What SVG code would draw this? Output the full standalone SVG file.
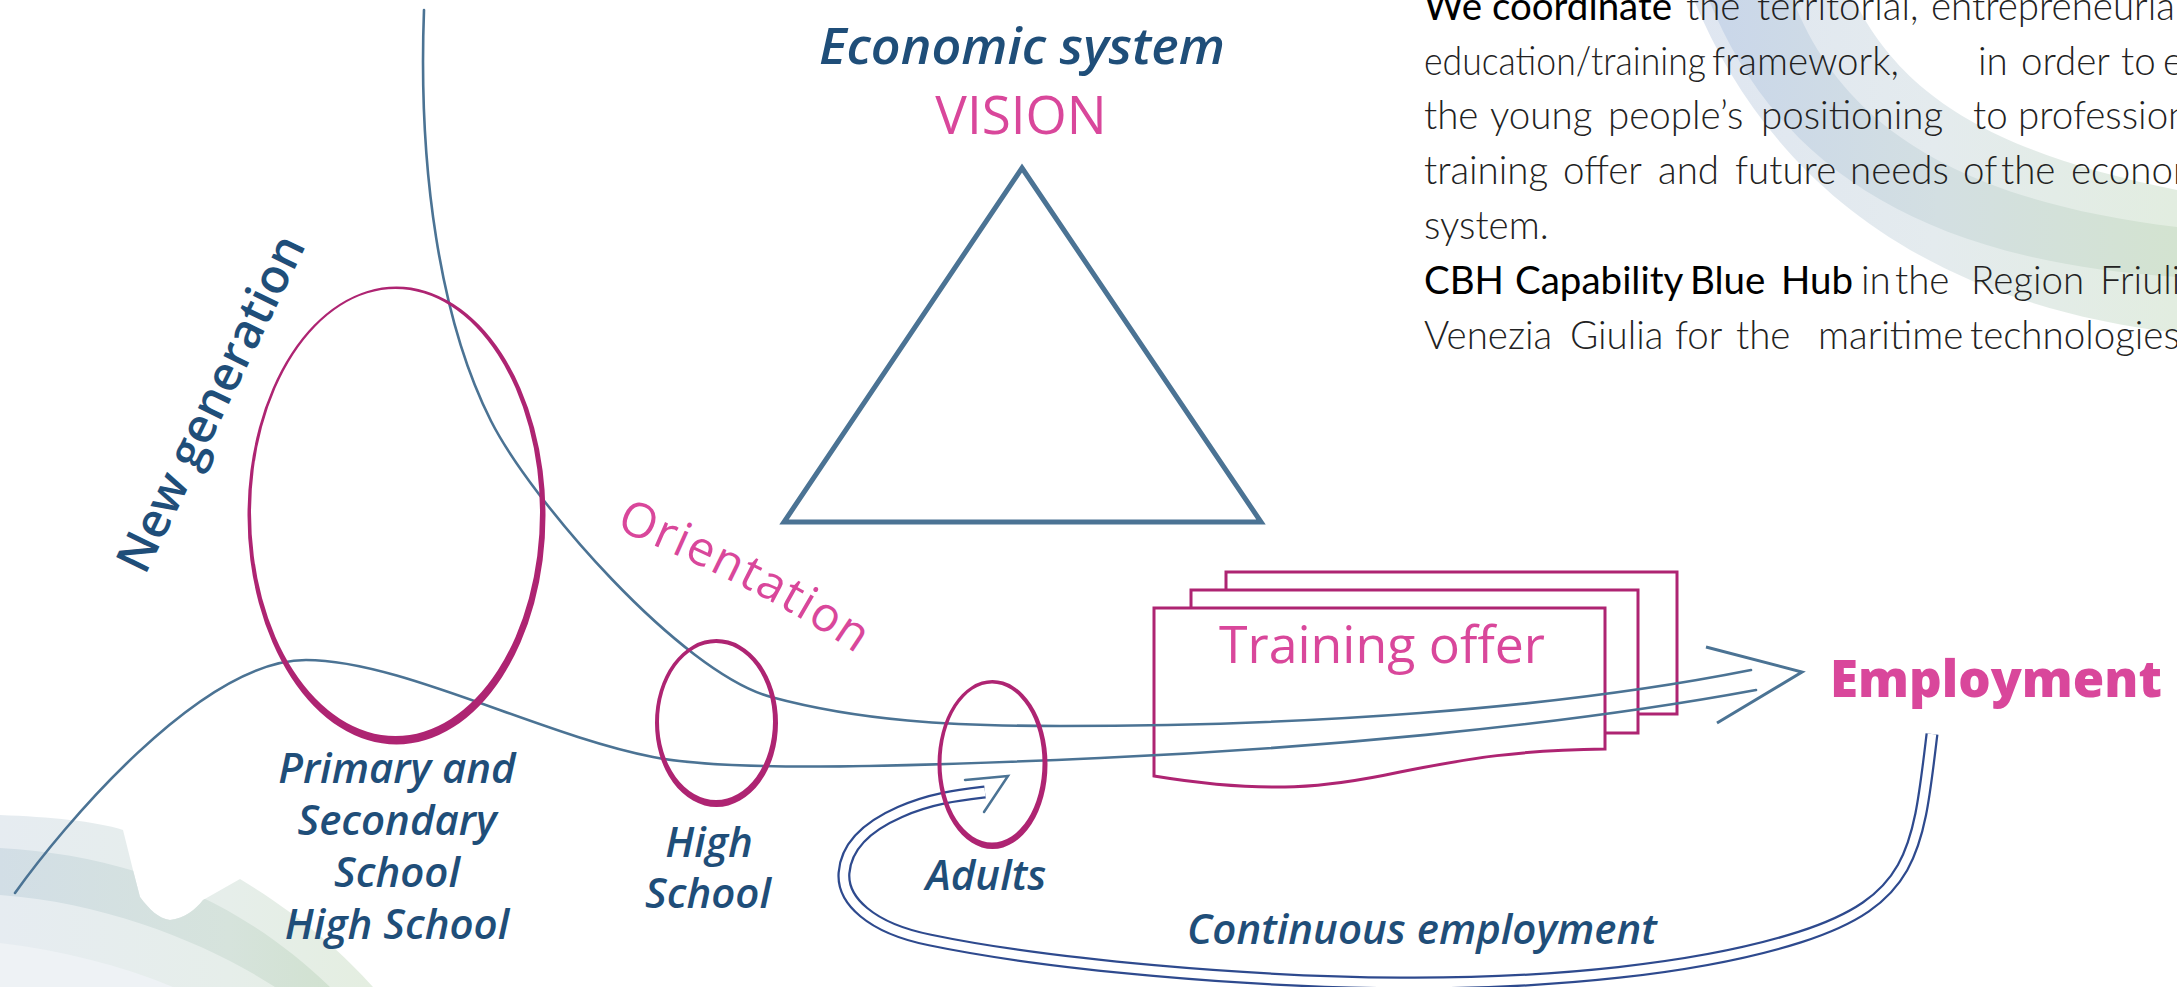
<svg xmlns="http://www.w3.org/2000/svg" width="2177" height="987" viewBox="0 0 2177 987">
<style>
.body{font-family:Lato,"Liberation Sans",sans-serif;font-size:38.5px;fill:#222;font-weight:300}
.em{font-weight:400;fill:#000}
.lbl{font-family:"Open Sans","Noto Sans",sans-serif;font-style:italic;font-weight:600;fill:#1f4e79;text-anchor:middle;font-size:42px}
.pink{font-family:"Open Sans","Noto Sans",sans-serif;fill:#d9479b;font-weight:500}
.line{fill:none;stroke:#4b7394;stroke-width:2.6;stroke-linecap:round}
.mag{fill:#ae2472;fill-rule:evenodd}
.box{fill:#fff;stroke:#ae2472;stroke-width:3}
</style>
<defs>
<linearGradient id="gTR" x1="1690" y1="0" x2="2177" y2="0" gradientUnits="userSpaceOnUse">
<stop offset="0" stop-color="#dfe6f1"/><stop offset="0.5" stop-color="#e4ebee"/><stop offset="1" stop-color="#e2ede0"/>
</linearGradient>
<linearGradient id="gTRc" x1="1700" y1="0" x2="2177" y2="0" gradientUnits="userSpaceOnUse">
<stop offset="0" stop-color="#c9d6ea"/><stop offset="0.5" stop-color="#d3dfe2"/><stop offset="1" stop-color="#d3e3d0"/>
</linearGradient>
<linearGradient id="gBL" x1="0" y1="0" x2="380" y2="0" gradientUnits="userSpaceOnUse">
<stop offset="0" stop-color="#e6ecf1"/><stop offset="0.6" stop-color="#e6eeea"/><stop offset="1" stop-color="#e4eee0"/>
</linearGradient>
<linearGradient id="gBLc" x1="0" y1="0" x2="380" y2="0" gradientUnits="userSpaceOnUse">
<stop offset="0" stop-color="#d2dee6"/><stop offset="0.6" stop-color="#d6e3dc"/><stop offset="1" stop-color="#cfe1cb"/>
</linearGradient>
<clipPath id="clipBL">
<path d="M0,815 C50,817 95,821 123,830 L133,870 L140,897 C150,910 158,918 170,920 C185,918 195,910 203,900 L240,879 C300,915 345,955 373,987 L0,987 Z"/>
</clipPath>
</defs>
<rect width="2177" height="987" fill="#fff"/>

<g id="background">
<path d="M1694,0 C1760,160 1900,300 2177,333 L2177,190 C1980,150 1900,90 1854,0 Z" fill="url(#gTR)"/>
<path d="M1709,0 C1770,150 1900,260 2177,277 L2177,227 C1950,200 1840,120 1793,0 Z" fill="url(#gTRc)"/>
<g clip-path="url(#clipBL)">
<rect x="0" y="800" width="400" height="187" fill="url(#gBL)"/>
<path d="M0,848 C130,855 240,900 330,987 L275,987 C210,945 110,903 0,895 Z" fill="url(#gBLc)"/>
<path d="M0,943 C60,950 120,965 173,987 L0,987 Z" fill="#eef2f5"/>
</g>
</g>

<g id="text-block">
<text class="body" y="20"><tspan class="em" x="1424">We coordinate</tspan> <tspan x="1686">the</tspan> <tspan x="1757">territorial,</tspan> <tspan x="1931">entrepreneurial</tspan></text>
<text class="body" y="75"><tspan x="1424" textLength="282" lengthAdjust="spacingAndGlyphs">education/training</tspan> <tspan x="1712">framework,</tspan> <tspan x="1978">in</tspan> <tspan x="2021">order</tspan> <tspan x="2121">to</tspan> <tspan x="2163">e</tspan></text>
<text class="body" y="129"><tspan x="1424">the</tspan> <tspan x="1490">young</tspan> <tspan x="1608">people’s</tspan> <tspan x="1761">positioning</tspan> <tspan x="1973">to</tspan> <tspan x="2018">professional</tspan></text>
<text class="body" y="184"><tspan x="1424">training</tspan> <tspan x="1563">offer</tspan> <tspan x="1658">and</tspan> <tspan x="1735">future</tspan> <tspan x="1850">needs</tspan> <tspan x="1963">of</tspan> <tspan x="2001">the</tspan> <tspan x="2071">economic</tspan></text>
<text class="body" x="1424" y="239">system.</text>
<text class="body" y="294"><tspan class="em" x="1424">CBH</tspan> <tspan class="em" x="1515">Capability</tspan> <tspan class="em" x="1690">Blue</tspan> <tspan class="em" x="1781">Hub</tspan> <tspan x="1861">in</tspan> <tspan x="1895">the</tspan> <tspan x="1971">Region</tspan> <tspan x="2100">Friuli</tspan></text>
<text class="body" y="349"><tspan x="1424">Venezia</tspan> <tspan x="1570">Giulia</tspan> <tspan x="1675">for</tspan> <tspan x="1736">the</tspan> <tspan x="1818">maritime</tspan> <tspan x="1970">technologies</tspan></text>
</g>

<g id="vision">
<text class="lbl" x="1022" y="64" textLength="406" lengthAdjust="spacingAndGlyphs" style="font-size:50px">Economic system</text>
<text class="pink" x="1021" y="134" text-anchor="middle" style="font-size:53px">VISION</text>
<path d="M1022,168 L1261,522 L784,522 Z" fill="none" stroke="#4b7394" stroke-width="5"/>
</g>

<g id="new-generation">
<text transform="translate(145,576) rotate(-64)" style="font-family:'Open Sans','Noto Sans',sans-serif;font-weight:600;font-size:48px;fill:#1f4e79" textLength="368" lengthAdjust="spacingAndGlyphs">New generation</text>
</g>

<g id="orientation">
<path id="orPath" d="M615,529 Q765,590 858,655" fill="none"/>
<text class="pink" style="font-size:48px"><textPath href="#orPath" textLength="272" lengthAdjust="spacing">Orientation</textPath></text>
</g>

<g id="training-offer">
<rect class="box" x="1226" y="572" width="451" height="142"/>
<rect class="box" x="1191" y="590" width="447" height="143"/>
<path class="box" d="M1154,608 L1605,608 L1605,749 C1520,750 1470,758 1400,772 C1330,787 1270,795 1154,776 Z"/>
<text class="pink" x="1382" y="663" text-anchor="middle" textLength="326" lengthAdjust="spacingAndGlyphs" style="font-size:52px">Training offer</text>
</g>

<g id="employment">
<text class="pink" x="1996" y="697" text-anchor="middle" textLength="332" lengthAdjust="spacingAndGlyphs" style="font-size:52px;font-weight:800">Employment</text>
</g>

<g id="connectors">
<path class="line" d="M424,10 C418,170 440,320 491,421 C531,500 680,672 771,697 C860,721 950,726 1060,726 C1300,726 1550,710 1751,670"/>
<path class="line" d="M15,893 C60,830 200,660 306,660 C400,660 540,735 653,757 C723,771 880,768 1100,758 C1300,749 1550,728 1756,690"/>
<path class="line" style="stroke-width:3;stroke-linecap:butt;stroke-linejoin:miter" d="M1706,647 L1802,672 L1717,723"/>
<path d="M1932,734 C1918,850 1915,900 1800,937 C1700,969 1550,984 1400,983 C1250,982 1050,965 930,940 C870,928 842,900 844,873 C846,846 868,826 900,812 C932,798 960,795 985,792" fill="none" stroke="#2e4a8e" stroke-width="13"/>
<path d="M1932,734 C1918,850 1915,900 1800,937 C1700,969 1550,984 1400,983 C1250,982 1050,965 930,940 C870,928 842,900 844,873 C846,846 868,826 900,812 C932,798 960,795 985,792" fill="none" stroke="#fff" stroke-width="8.5"/>
<path class="line" style="stroke-width:2.5" d="M965,780 L1008,776 L984,812"/>
</g>

<g id="ellipse-primary">
<path class="mag" d="M247.5,515.5 a149,229 0 1,0 298,0 a149,229 0 1,0 -298,0 Z M251,512.5 a144.5,223.5 0 1,0 289,0 a144.5,223.5 0 1,0 -289,0 Z"/>
<text class="lbl" x="397" y="783">Primary and</text>
<text class="lbl" x="397" y="835">Secondary</text>
<text class="lbl" x="397" y="887">School</text>
<text class="lbl" x="397" y="939">High School</text>
</g>

<g id="ellipse-highschool">
<path class="mag" d="M655,723 a61.5,84 0 1,0 123,0 a61.5,84 0 1,0 -123,0 Z M659,721.5 a57,78.5 0 1,0 114,0 a57,78.5 0 1,0 -114,0 Z"/>
<text class="lbl" x="709" y="857">High</text>
<text class="lbl" x="708" y="908">School</text>
</g>

<g id="ellipse-adults">
<path class="mag" d="M937.5,764.5 a55,84.5 0 1,0 110,0 a55,84.5 0 1,0 -110,0 Z M941.5,763 a50.5,79.5 0 1,0 101,0 a50.5,79.5 0 1,0 -101,0 Z"/>
<text class="lbl" x="986" y="890">Adults</text>
</g>

<g id="continuous-employment">
<text class="lbl" x="1422" y="944">Continuous employment</text>
</g>
</svg>
